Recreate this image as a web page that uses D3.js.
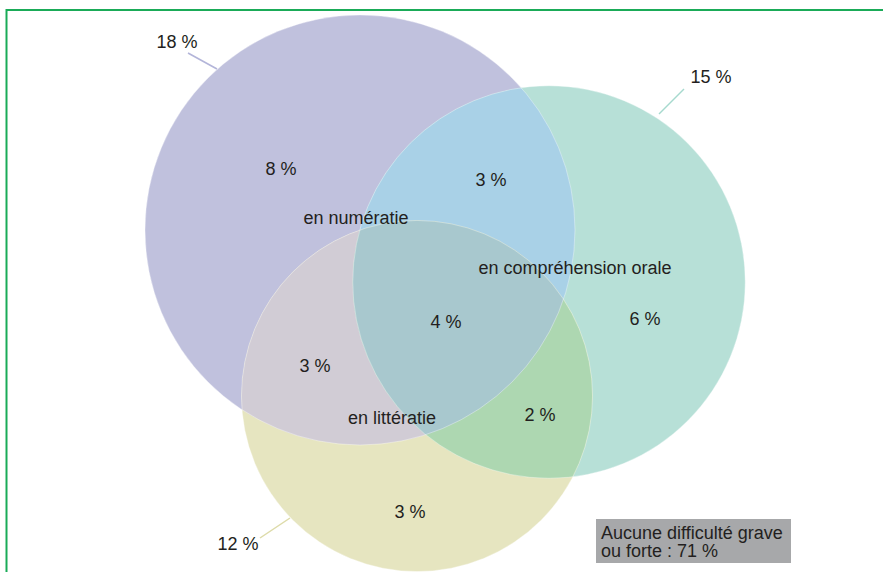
<!DOCTYPE html>
<html>
<head>
<meta charset="utf-8">
<script src="https://cdn.jsdelivr.net/npm/d3@7"></script>
<style>
  body { margin: 0; background: #fff; }
  text { font-family: "Liberation Sans", Arial, sans-serif; fill: #231f20; }
</style>
</head>
<body>
<div id="chart"></div>
<script>
// data
const setKeys = ["N", "O", "L"];
const setNames = ["en numératie", "en compréhension orale", "en littératie"];
const setTotals = [18, 15, 12];
const regionKeys = ["N", "NO", "O", "NL", "NOL", "OL", "L"];
const regionValues = [8, 3, 6, 3, 4, 2, 3];
const noneLabel = ["Aucune difficulté grave", "ou forte : 71 %"];

// layout (design units, mapped through x / y scales)
const centers = { N: [360, 230], O: [549, 282], L: [417, 396] };
const regionLabelPos = { N: [281, 175], NO: [491, 186], O: [645, 325], NL: [315, 372], NOL: [446, 328], OL: [540, 421], L: [410, 518] };
const setLabelPos = { N: [356, 224], O: [575, 274], L: [392, 424] };
const callouts = {
  N: { text: [177, 48], line: [[188, 53], [217, 69]] },
  O: { text: [711, 83], line: [[684, 89], [659, 114]] },
  L: { text: [238, 550], line: [[260, 538], [290, 518]] }
};

const colors = {
  N: "#c0c1dd", O: "#b7e0d7", L: "#e6e5c0",
  NO: "#a9d1e7", NL: "#d1ccd5", OL: "#add7b1", NOL: "#a8c8ce"
};
const lineColors = { N: "#b3b5d9", O: "#a6d9ce", L: "#dddba9" };

const width = 883, height = 572;
const x = d3.scaleLinear().domain([0, 883]).range([0, width]);
const y = d3.scaleLinear().domain([0, 572]).range([0, height]);
const r = d3.scaleSqrt().domain([0, d3.max(setTotals)]).range([0, 215]);

const sets = setKeys.map((k, i) => ({ key: k, name: setNames[i], total: setTotals[i] }));
const byKey = Object.fromEntries(sets.map(s => [s.key, s]));

const svg = d3.select("#chart").append("svg")
  .attr("width", width).attr("height", height);

const defs = svg.append("defs");
sets.forEach(s => {
  defs.append("clipPath").attr("id", "clip-" + s.key)
    .append("circle")
    .attr("cx", x(centers[s.key][0])).attr("cy", y(centers[s.key][1]))
    .attr("r", r(s.total));
});

const circleOf = (g, s) => g.append("circle")
  .attr("cx", x(centers[s.key][0])).attr("cy", y(centers[s.key][1]))
  .attr("r", r(s.total));

const fills = svg.append("g");
// single sets
sets.forEach(s => circleOf(fills, s).attr("fill", colors[s.key]));
// pairs
[["N", "O"], ["N", "L"], ["O", "L"]].forEach(([a, b]) => {
  circleOf(fills, byKey[b])
    .attr("clip-path", `url(#clip-${a})`)
    .attr("fill", colors[a + b]);
});
// triple
circleOf(fills.append("g").attr("clip-path", "url(#clip-O)"), byKey.L)
  .attr("clip-path", "url(#clip-N)")
  .attr("fill", colors.NOL);

// faint seams
sets.forEach(s => circleOf(fills, s)
  .attr("fill", "none").attr("stroke", "#fff")
  .attr("stroke-opacity", 0.45).attr("stroke-width", 0.8));

// callouts
const callG = svg.append("g");
sets.forEach(s => {
  const c = callouts[s.key];
  callG.append("line")
    .attr("x1", x(c.line[0][0])).attr("y1", y(c.line[0][1]))
    .attr("x2", x(c.line[1][0])).attr("y2", y(c.line[1][1]))
    .attr("stroke", lineColors[s.key]).attr("stroke-width", 1.5);
  callG.append("text")
    .attr("x", x(c.text[0])).attr("y", y(c.text[1]))
    .attr("text-anchor", "middle").style("font-size", "18px")
    .text(`${s.total} %`);
});

// region values
svg.append("g").selectAll("text")
  .data(regionKeys.map((k, i) => ({ key: k, value: regionValues[i] })))
  .join("text")
  .attr("x", d => x(regionLabelPos[d.key][0]))
  .attr("y", d => y(regionLabelPos[d.key][1]))
  .attr("text-anchor", "middle").style("font-size", "18px")
  .text(d => `${d.value} %`);

// set names
svg.append("g").selectAll("text")
  .data(sets)
  .join("text")
  .attr("x", d => x(setLabelPos[d.key][0]))
  .attr("y", d => y(setLabelPos[d.key][1]))
  .attr("text-anchor", "middle").style("font-size", "18px")
  .text(d => d.name);

// "none" box
const box = svg.append("g");
box.append("rect")
  .attr("x", x(596)).attr("y", y(519))
  .attr("width", x(791) - x(596)).attr("height", y(563) - y(519))
  .attr("fill", "#a7a8aa");
box.selectAll("text").data(noneLabel).join("text")
  .attr("x", x(601)).attr("y", (d, i) => y(539 + i * 18))
  .style("font-size", "18px")
  .text(d => d);

// frame
svg.append("rect")
  .attr("x", 6.5).attr("y", 10)
  .attr("width", width + 20).attr("height", height + 20)
  .attr("fill", "none").attr("stroke", "#1aab58").attr("stroke-width", 2);
</script>
</body>
</html>
